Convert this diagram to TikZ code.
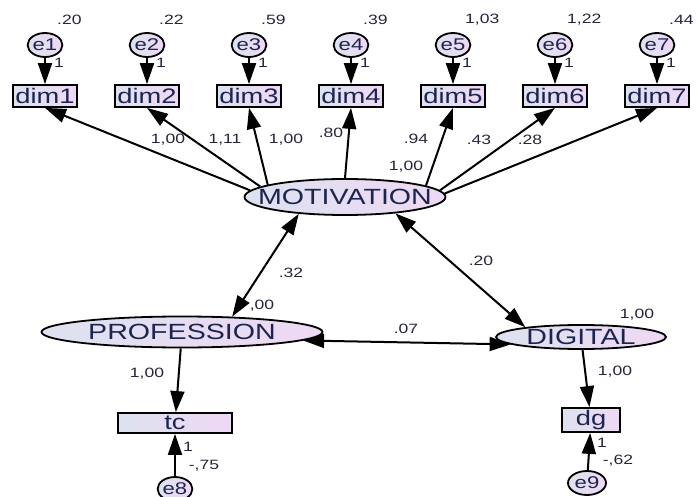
\documentclass[tikz,border=0pt]{standalone}
\usepackage{fontspec}
\setmainfont{Liberation Sans}
\newfontfamily\amosfont[FakeStretch=1.3]{Liberation Sans}
\usepackage{tikz}
\usetikzlibrary{shapes.geometric, arrows.meta}
\definecolor{amosink}{HTML}{1C2450}
\definecolor{amoslabel}{HTML}{26263A}
\definecolor{fillleft}{HTML}{DDE2EF}
\definecolor{fillright}{HTML}{EED8F3}

\begin{document}
\begin{tikzpicture}[
    x=1pt, y=-1pt,
    latent/.style={ellipse, draw=black, line width=1.8pt, left color=fillleft, right color=fillright, text=amosink, inner sep=0pt, font=\amosfont\fontsize{22}{22}\selectfont},
    observed/.style={rectangle, draw=black, line width=1.8pt, left color=fillleft, right color=fillright, text=amosink, inner sep=0pt, minimum height=22pt, font=\amosfont\fontsize{21}{21}\selectfont},
    errvar/.style={ellipse, draw=black, line width=1.8pt, left color=fillleft, right color=fillright, text=amosink, inner sep=0pt, minimum width=34pt, minimum height=24pt, font=\amosfont\fontsize{17}{17}\selectfont},
    est/.style={text=amoslabel, inner sep=0pt, font=\amosfont\fontsize{13.5}{13.5}\selectfont},
    arrow/.style={-{Triangle[length=21pt, width=14pt]}, line width=2pt},
    biarrow/.style={{Triangle[length=21pt, width=14pt]}-{Triangle[length=21pt, width=14pt]}, line width=2pt}
]
\useasboundingbox (0,0) rectangle (699,497);

% Error terms and indicators
\foreach \k/\v in {1/.20, 2/.22, 3/.59, 4/.39, 5/{1,03}, 6/{1,22}, 7/.44} {
    \pgfmathsetmacro\cx{45+102*(\k-1)}
    \node[errvar] (e\k) at (\cx,45) {e\k};
    \node[observed, minimum width=64pt] (dim\k) at (\cx,96) {dim\k};
    \node[est, anchor=west] (var\k) at (\cx+12,20) {\v};
    \node[est] (one\k) at (\cx+14,63) {1};
    \draw[arrow] (e\k) -- (dim\k);
}

% Latent factors
\node[latent, minimum width=201pt, minimum height=36pt] (mot) at (345,197) {\makebox[0pt]{MOTIVATION}};
\node[latent, minimum width=281pt, minimum height=31pt] (prof) at (182,332) {\makebox[0pt]{PROFESSION}};
\node[latent, minimum width=170pt, minimum height=24pt] (dig) at (581,337) {\makebox[0pt]{DIGITAL}};

% Loadings
\foreach \k/\a in {1/176, 2/173, 3/171, 4/90, 5/8, 6/4, 7/2}
    \draw[arrow] (mot.\a) -- (dim\k.south);
\node[est] (load1) at (168,140) {1,00};
\node[est] (load2) at (225,140) {1,11};
\node[est] (load3) at (286,140) {1,00};
\node[est] (load4) at (331,133) {.80};
\node[est] (load5) at (416,139) {.94};
\node[est] (load6) at (406,167) {1,00};
\node[est] (load7) at (479,140) {.43};
\node[est] (load8) at (530,140) {.28};

% Single indicators
\node[observed, minimum width=114pt, minimum height=20pt] (tc) at (175,423) {tc};
\node[observed, minimum width=58pt, minimum height=24pt] (dg) at (591,420) {dg};
\node[errvar] (e8) at (175,489) {e8};
\node[errvar, minimum width=38pt] (e9) at (587,483) {e9};
\draw[arrow] (prof) -- (tc);
\draw[arrow] (dig) -- (dg);
\draw[arrow] (e8) -- (tc);
\draw[arrow] (e9) -- (dg);

% Covariances
\draw[biarrow] (mot.200) -- (prof.17);
\draw[biarrow] (mot.-18) -- (dig.170);
\draw[biarrow] (prof.-4) -- (dig.186);

% Estimates
\node[est] (cov1) at (291,273) {.32};
\node[est] (var8) at (262,306) {,00};
\node[est] (cov2) at (481,261) {.20};
\node[est] (cov3) at (406,329) {.07};
\node[est] (var9) at (637,315) {1,00};
\node[est] (ltc) at (147,374) {1,00};
\node[est] (ldg) at (615,372) {1,00};
\node[est] (onetc) at (188,447) {1};
\node[est] (vtc) at (204,466) {-,75};
\node[est] (onedg) at (602,443) {1};
\node[est] (vdg) at (618,461) {-,62};

\end{tikzpicture}
\end{document}
